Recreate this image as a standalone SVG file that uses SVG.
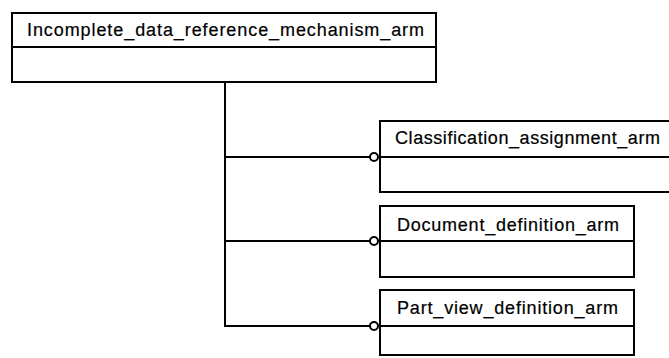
<svg xmlns="http://www.w3.org/2000/svg" width="669" height="358" viewBox="0 0 669 358">
<style>
.box{fill:#fff;stroke:#000;stroke-width:2}
.ln{fill:none;stroke:#000;stroke-width:2}
.t{font-family:"Liberation Sans",Arial,sans-serif;font-size:18px;fill:#000;stroke:#000;stroke-width:0.2;text-anchor:middle}
.c{fill:#fff;stroke:#000;stroke-width:2}
</style>
<rect width="669" height="358" fill="#fff"/>
<g id="connectors">
<path class="ln" d="M225 82 V326 H370"/>
<path class="ln" d="M225 157 H370"/>
<path class="ln" d="M225 241 H370"/>
<circle class="c" cx="374" cy="157" r="4"/>
<circle class="c" cx="374" cy="241" r="4"/>
<circle class="c" cx="374" cy="326" r="4"/>
</g>
<g id="Incomplete_data_reference_mechanism_arm">
<rect class="box" x="12" y="13" width="424" height="69"/>
<line class="ln" x1="12" y1="47" x2="436" y2="47"/>
<text class="t" x="225.5" y="36" textLength="397" lengthAdjust="spacing">Incomplete_data_reference_mechanism_arm</text>
</g>
<g id="Classification_assignment_arm">
<rect class="box" x="380" y="121" width="300" height="71"/>
<line class="ln" x1="380" y1="157" x2="680" y2="157"/>
<text class="t" x="527.5" y="144" textLength="265" lengthAdjust="spacing">Classification_assignment_arm</text>
</g>
<g id="Document_definition_arm">
<rect class="box" x="380" y="206" width="254" height="71"/>
<line class="ln" x1="380" y1="241" x2="634" y2="241"/>
<text class="t" x="508" y="230.5" textLength="222" lengthAdjust="spacing">Document_definition_arm</text>
</g>
<g id="Part_view_definition_arm">
<rect class="box" x="380" y="290" width="254" height="65"/>
<line class="ln" x1="380" y1="326" x2="634" y2="326"/>
<text class="t" x="507.5" y="314" textLength="221" lengthAdjust="spacing">Part_view_definition_arm</text>
</g>
</svg>
